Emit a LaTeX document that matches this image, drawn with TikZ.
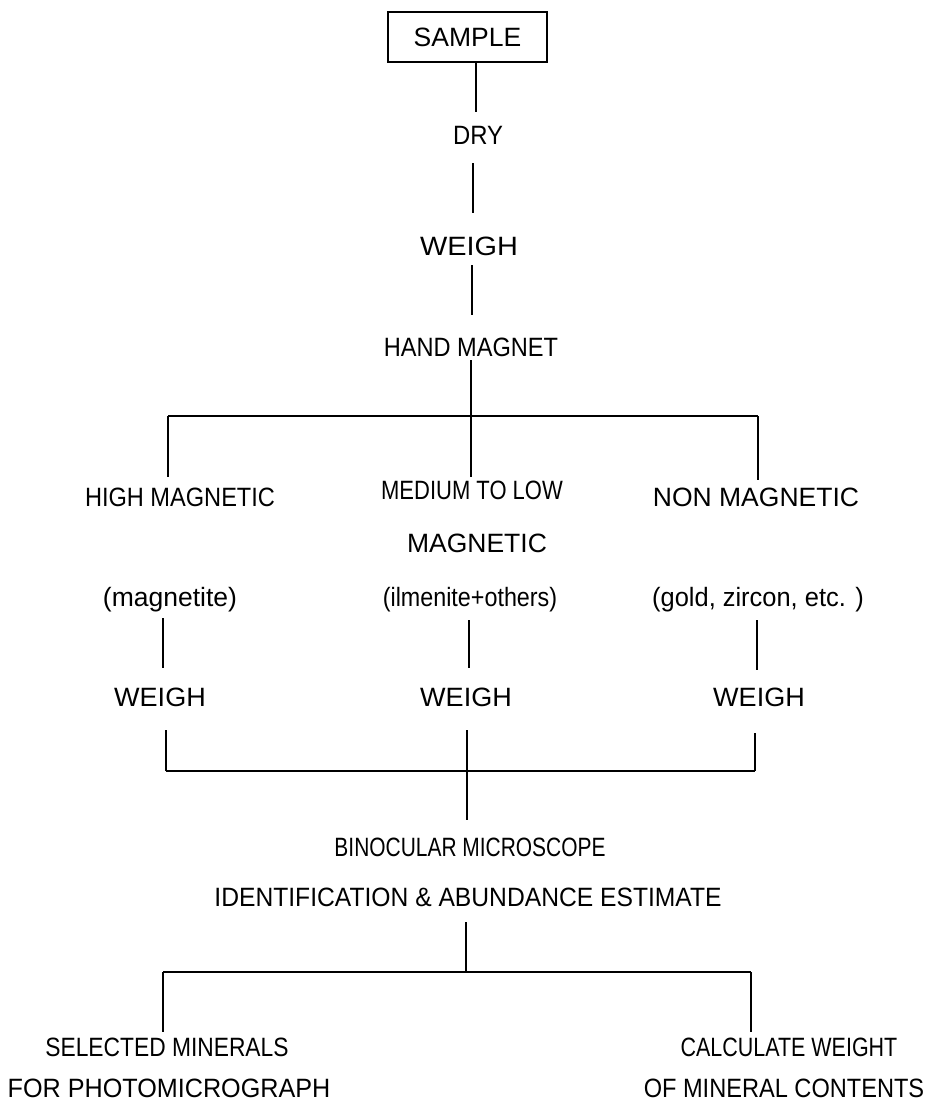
\documentclass[tikz,border=0pt]{standalone}
\usepackage{fontspec}
\setmainfont{Liberation Sans}
\usepackage{graphicx}
\newcommand\hsq[2]{\scalebox{#1}[1]{#2}}
\begin{document}
\begin{tikzpicture}[x=1pt,y=-1pt,
  lbl/.style={anchor=base,inner sep=0pt,outer sep=0pt,text height=18.6pt,text depth=0pt,font=\fontsize{26.5}{30}\selectfont},
  ln/.style={line width=1.6pt}]
\useasboundingbox (0,0) rectangle (928,1120);
\fill[white] (0,0) rectangle (928,1120);
% nodes
\node[draw,line width=1.3pt,minimum width=159pt,minimum height=50pt,inner sep=0pt,text height=18.6pt,text depth=0pt,font=\fontsize{26.5}{30}\selectfont] (sample) at (467.5,37) {SAMPLE};
\node[lbl] (dry) at (478,144.5) {\hsq{0.9}{DRY}};
\node[lbl] (weigh) at (469,255.5) {\hsq{1.09}{WEIGH}};
\node[lbl] (hand) at (471,356.5) {\hsq{0.89}{HAND MAGNET}};
\node[lbl] (high) at (180,506.5) {\hsq{0.89}{HIGH MAGNETIC}};
\node[lbl] (med) at (472,499.5) {\hsq{0.83}{MEDIUM TO LOW}};
\node[lbl] (non) at (756,506.5) {NON MAGNETIC};
\node[lbl] (med2) at (477,552) {MAGNETIC};
\node[lbl] (magt) at (170,606) {(magnetite)};
\node[lbl] (ilm) at (470,606) {\hsq{0.88}{(ilmenite+others)}};
\node[lbl] (gold) at (758,606) {\hsq{0.96}{(gold, zircon, etc. )}};
\node[lbl] (w1) at (160,706) {\hsq{1.02}{WEIGH}};
\node[lbl] (w2) at (466,706) {\hsq{1.02}{WEIGH}};
\node[lbl] (w3) at (759,706) {\hsq{1.02}{WEIGH}};
\node[lbl] (bino) at (470,856) {\hsq{0.79}{BINOCULAR MICROSCOPE}};
\node[lbl] (ident) at (468,906) {\hsq{0.93}{IDENTIFICATION \& ABUNDANCE ESTIMATE}};
\node[lbl] (sel) at (167,1056) {\hsq{0.86}{SELECTED MINERALS}};
\node[lbl] (photo) at (169,1097) {\hsq{0.95}{FOR PHOTOMICROGRAPH}};
\node[lbl] (calc) at (789,1056) {\hsq{0.81}{CALCULATE WEIGHT}};
\node[lbl] (cont) at (784,1097) {\hsq{0.89}{OF MINERAL CONTENTS}};
% branch points
\coordinate (bL) at (168,416);
\coordinate (bR) at (758,416);
\coordinate (cL) at (166,771);
\coordinate (cR) at (755,771);
\coordinate (dL) at (163,972);
\coordinate (dR) at (751,972);
% connectors
\draw[ln,shorten >=13.9pt] ([xshift=8.5pt]sample.south) -- ([xshift=8.5pt]sample.south |- dry.north);
\draw[ln,shorten <=18.5pt,shorten >=23.9pt] ([xshift=-5pt]dry.south) -- ([xshift=-5pt]dry.south |- weigh.north);
\draw[ln,shorten <=9.5pt,shorten >=22.9pt] ([xshift=3pt]weigh.south) -- ([xshift=3pt]weigh.south |- hand.north);
\draw[ln,shorten <=3.5pt,shorten >=3.9pt] (hand.south) -- (hand.south |- med.north);
\draw[ln] (bL) -- (bR);
\draw[ln,shorten >=10.9pt] (bL) -- (bL |- high.north);
\draw[ln,shorten >=7.9pt] (bR) -- (bR |- non.north);
\draw[ln,shorten <=12pt,shorten >=19.4pt] ([xshift=-7pt]magt.south) -- ([xshift=-7pt]magt.south |- w1.north);
\draw[ln,shorten <=14pt,shorten >=19.4pt] ([xshift=-1pt]ilm.south) -- ([xshift=-1pt]ilm.south |- w2.north);
\draw[ln,shorten <=14pt,shorten >=17.4pt] ([xshift=-1pt]gold.south) -- ([xshift=-1pt]gold.south |- w3.north);
\draw[ln] (cL) -- (cR);
\draw[ln,shorten >=24pt] (cL) -- (cL |- w1.south);
\draw[ln,shorten >=27pt] (cR) -- (cR |- w3.south);
\draw[ln,shorten <=24pt,shorten >=17.4pt] ([xshift=1pt]w2.south) -- ([xshift=1pt]w2.south |- bino.north);
\draw[ln,shorten <=16pt] ([xshift=-2pt]ident.south) -- ([xshift=-2pt]ident.south |- dL);
\draw[ln] (dL) -- (dR);
\draw[ln,shorten >=5.4pt] (dL) -- (dL |- sel.north);
\draw[ln,shorten >=5.4pt] (dR) -- (dR |- calc.north);
\end{tikzpicture}
\end{document}
